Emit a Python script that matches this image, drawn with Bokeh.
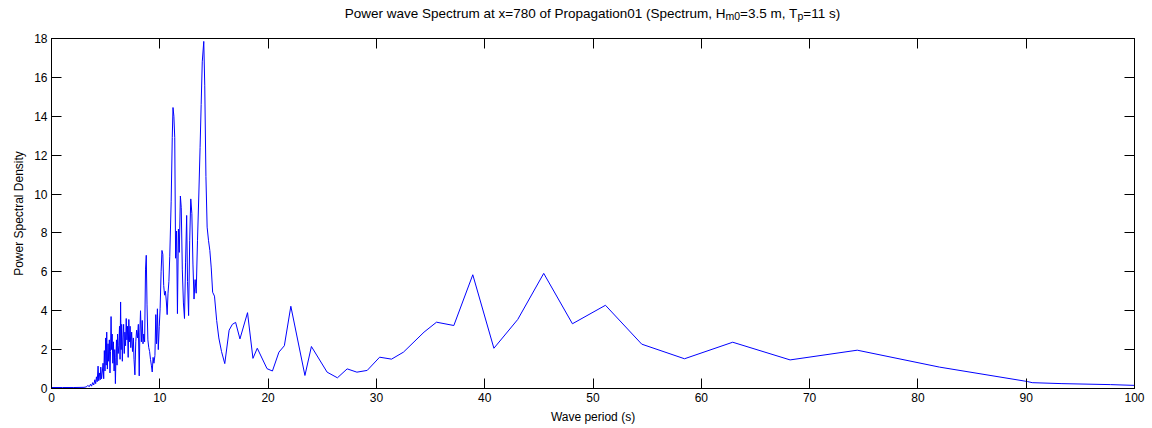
from bokeh.plotting import figure
from bokeh.models import Range1d, LinearAxis, FixedTicker
from bokeh.layouts import column
from bokeh.core.properties import value
from bokeh.embed import file_html
from bokeh.resources import INLINE

# Wave period (s) and power spectral density of the spectrum
period_s = [
    0.0, 1.0, 2.0, 3.0, 3.2, 3.35, 3.5, 3.6, 3.7, 3.8, 3.9, 4.0, 4.08, 4.15, 4.22, 4.3,
    4.36, 4.42, 4.5, 4.55, 4.62, 4.7, 4.76, 4.82, 4.88, 4.94,
    5.0, 5.05, 5.1, 5.16, 5.22, 5.28, 5.34, 5.4, 5.45, 5.5, 5.55, 5.6, 5.66, 5.72, 5.78, 5.84,
    5.9, 5.95, 6.0, 6.05, 6.1, 6.16, 6.22, 6.28, 6.33, 6.38, 6.43, 6.48, 6.54, 6.6, 6.66, 6.72,
    6.78, 6.84, 6.9, 6.96,
    7.02, 7.08, 7.14, 7.2, 7.26, 7.32, 7.4, 7.48, 7.56, 7.62, 7.7, 7.78, 7.86, 7.94, 8.02, 8.1,
    8.16, 8.22, 8.3, 8.38, 8.45, 8.52, 8.6, 8.68, 8.75, 8.82, 8.9, 8.98,
    9.06, 9.14, 9.22, 9.3, 9.38, 9.46, 9.55, 9.63, 9.7, 9.78, 9.86, 9.95, 10.03, 10.12, 10.2,
    10.28, 10.36, 10.44, 10.52, 10.6, 10.68, 10.76, 10.84, 10.92,
    11.05, 11.15, 11.22, 11.3, 11.38, 11.46, 11.55, 11.63, 11.72, 11.8, 11.9, 11.98, 12.08,
    12.18, 12.28, 12.38, 12.48, 12.56, 12.66, 12.76, 12.86, 12.96, 13.06, 13.16, 13.26, 13.36,
    13.48, 13.6, 13.72, 13.82, 13.92, 14.06, 14.15, 14.26, 14.37, 14.5, 14.62, 14.75, 14.88,
    15.05, 15.25, 15.45, 15.7, 16.0,
    16.4, 16.7, 17.0, 17.4, 18.1, 18.6, 19.0, 19.9, 20.4, 21.0, 21.5, 22.1, 23.4, 24.0, 25.45,
    26.4, 27.3, 28.2, 29.15, 30.3, 31.4, 32.5, 34.4, 35.55, 37.15, 38.9, 40.85, 43.05, 45.45,
    48.1, 51.15, 54.5, 58.45, 62.9, 68.2, 74.4, 82.0, 90.1, 90.55, 93.3, 97.8, 100.0,
]
psd = [
    0.05, 0.05, 0.05, 0.06, 0.08, 0.15, 0.1, 0.22, 0.12, 0.3, 0.18, 0.45, 0.25, 0.6, 0.35, 1.15,
    0.4, 0.8, 0.45, 1.1, 0.5, 0.9, 1.3, 0.5, 1.95, 0.9,
    2.6, 1.2, 2.9, 1.0, 2.3, 1.4, 2.5, 0.8, 1.9, 3.7, 2.0, 2.8, 1.3, 2.4, 0.9, 2.0,
    0.25, 1.6, 2.5, 1.2, 2.8, 1.8, 2.2, 3.2, 1.5, 4.45, 2.0, 3.3, 1.4, 2.6, 3.3, 1.8,
    2.9, 2.2, 3.6, 2.5,
    3.2, 1.6, 3.55, 2.4, 3.2, 2.1, 2.9, 1.9, 2.6, 1.5, 0.7, 2.4, 3.0, 2.6, 3.3, 0.65,
    2.9, 4.0, 2.4, 3.5, 2.3, 2.8, 2.4, 6.1, 6.85, 4.3, 2.5, 2.1,
    1.9, 1.5, 1.2, 0.85, 1.6, 1.3, 1.7, 3.8, 2.3, 4.1, 2.0, 3.2, 4.1, 6.0, 7.1,
    6.9, 5.3, 4.8, 5.0, 4.5, 3.8, 4.9, 5.5, 6.8,
    9.6, 12.9, 14.45, 14.0, 12.9, 6.7, 8.1, 3.85, 8.2, 7.0, 9.9, 9.3, 6.1,
    4.4, 3.6, 6.5, 8.9, 5.5, 3.75, 7.6, 9.75, 9.0, 6.4, 4.6, 5.6, 4.9,
    7.6, 9.9, 12.4, 14.6, 16.8, 17.85, 15.6, 10.9, 8.3, 7.6, 7.1, 6.2, 4.95,
    4.75, 3.5, 2.6, 1.9, 1.28,
    3.0, 3.3, 3.4, 2.55, 3.9, 1.55, 2.07, 1.02, 0.9, 1.87, 2.2, 4.23, 0.67, 2.16, 0.84,
    0.55, 1.01, 0.84, 0.93, 1.61, 1.51, 1.87, 2.9, 3.41, 3.24, 5.85, 2.07, 3.55, 5.92,
    3.33, 4.28, 2.28, 1.53, 2.38, 1.47, 1.97, 1.1, 0.36, 0.3, 0.25, 0.2, 0.16,
]

x_ticks = [0, 10, 20, 30, 40, 50, 60, 70, 80, 90, 100]
y_ticks = [0, 2, 4, 6, 8, 10, 12, 14, 16, 18]

# Title pieces: (text, is_subscript)
title_parts = [
    ("Power wave Spectrum at x=780 of Propagation01 (Spectrum, H", False),
    ("m0", True),
    ("=3.5 m, T", False),
    ("p", True),
    ("=11 s)", False),
]

FONT = "Liberation Sans"
W, H = 1152, 428
TITLE_H = 30
LEFT, RIGHT, TOP, BOTTOM = 51, 18, 8, 40
TITLE_SIZE, SUB_SIZE = 13.5, 10.5

# Arial / Liberation Sans advance widths (per 1000 em) for laying out the title
ADV = {" ": 278, "(": 333, ")": 333, ",": 278, ".": 278, "=": 584,
       "H": 722, "P": 667, "S": 667, "T": 611,
       "a": 556, "c": 500, "e": 556, "f": 278, "g": 556, "i": 222, "m": 833, "n": 556,
       "o": 556, "p": 556, "r": 333, "s": 500, "t": 278, "u": 556, "v": 500, "w": 722,
       "x": 500}
for d in "0123456789":
    ADV[d] = 556


def text_width(s, size):
    return sum(ADV.get(c, 556) for c in s) * size / 1000.0


frame_w = W - LEFT - RIGHT

# ---- title strip: same side borders as the plot, one data unit per pixel ----
t = figure(width=W, height=TITLE_H, output_backend="svg", toolbar_location=None,
           title=None, x_axis_location=None, y_axis_location=None,
           x_range=Range1d(0, frame_w), y_range=Range1d(0, TITLE_H),
           min_border_left=LEFT, min_border_right=RIGHT,
           min_border_top=0, min_border_bottom=0,
           background_fill_color="white", border_fill_color="white")
t.grid.visible = False
t.outline_line_color = None

total = sum(text_width(s, SUB_SIZE if sub else TITLE_SIZE) for s, sub in title_parts)
x0 = frame_w / 2.0 - total / 2.0
baseline = 17.5
for s, sub in title_parts:
    size = SUB_SIZE if sub else TITLE_SIZE
    t.text(x=[x0], y=[baseline - (3 if sub else 0)], text=[s],
           text_font=value(FONT), text_font_size=value(f"{size}px"),
           text_color="black", text_baseline="alphabetic", text_align="left")
    x0 += text_width(s, size)

# ---- spectrum plot ----
p = figure(width=W, height=H - TITLE_H, output_backend="svg", toolbar_location=None,
           title=None, x_range=Range1d(0, 100), y_range=Range1d(0, 18),
           min_border_left=LEFT, min_border_right=RIGHT,
           min_border_top=TOP, min_border_bottom=BOTTOM,
           background_fill_color="white", border_fill_color="white",
           x_axis_label="Wave period (s)", y_axis_label="Power Spectral Density")
p.grid.visible = False
p.outline_line_color = "black"
p.outline_line_width = 1

p.add_layout(LinearAxis(), "right")
p.add_layout(LinearAxis(), "above")

for ax in p.xaxis:
    ax.ticker = FixedTicker(ticks=x_ticks)
for ax in p.yaxis:
    ax.ticker = FixedTicker(ticks=y_ticks)

for ax in p.axis:
    ax.axis_line_color = "black"
    ax.major_tick_line_color = "black"
    ax.major_tick_in = 10
    ax.major_tick_out = 0
    ax.minor_tick_line_color = None
    ax.major_label_text_font = FONT
    ax.major_label_text_font_size = "12px"
    ax.major_label_text_color = "black"
    ax.major_label_standoff = 4
    ax.axis_label_text_font = FONT
    ax.axis_label_text_font_size = "12px"
    ax.axis_label_text_font_style = "normal"
    ax.axis_label_text_color = "black"
    ax.axis_label_standoff = 5

# box axes on top and right carry ticks only
for ax in (p.right[0], p.above[0]):
    ax.major_label_text_color = None
    ax.major_label_standoff = 0

p.line(period_s, psd, line_color="#0000ff", line_width=1)

layout = column(t, p, spacing=0)
open("out.html", "w").write(file_html(layout, INLINE))
